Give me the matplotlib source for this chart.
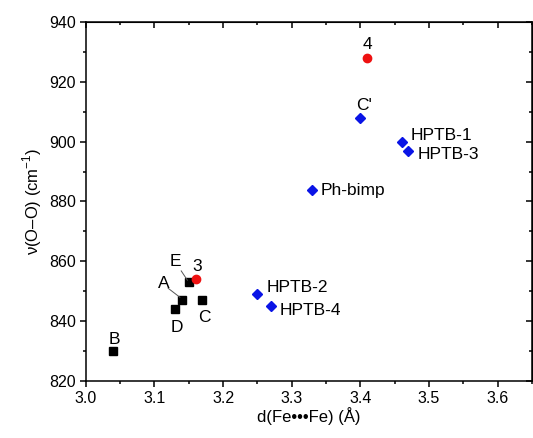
import matplotlib
matplotlib.use("Agg")
import matplotlib.pyplot as plt
from matplotlib.ticker import MultipleLocator

plt.rcParams['font.family'] = ['Liberation Sans', 'DejaVu Sans']
plt.rcParams['mathtext.fontset'] = 'custom'
plt.rcParams['mathtext.rm'] = 'Liberation Sans'
plt.rcParams['font.size'] = 11

# black squares
sq_names = ['B', 'D', 'A', 'E', 'C']
sq_x = [3.04, 3.13, 3.14, 3.15, 3.17]
sq_y = [830, 844, 847, 853, 847]

# red circles
rc_names = ['3', '4']
rc_x = [3.16, 3.41]
rc_y = [854, 928]

# blue diamonds
bd_names = ["C'", 'HPTB-1', 'HPTB-3', 'Ph-bimp', 'HPTB-2', 'HPTB-4']
bd_x = [3.40, 3.46, 3.47, 3.33, 3.25, 3.27]
bd_y = [908, 900, 897, 884, 849, 845]

# label positions (text centre or left edge)
lab_pos = {
    'B': (3.042, 834, 'center'),
    'D': (3.133, 838, 'center'),
    'A': (3.113, 852.6, 'center'),
    'E': (3.131, 860, 'center'),
    'C': (3.173, 841.4, 'center'),
    '3': (3.162, 858.2, 'center'),
    '4': (3.41, 932.3, 'center'),
    "C'": (3.406, 912.1, 'center'),
    'HPTB-1': (3.473, 902.2, 'left'),
    'HPTB-3': (3.483, 895.6, 'left'),
    'Ph-bimp': (3.342, 883.6, 'left'),
    'HPTB-2': (3.264, 851.2, 'left'),
    'HPTB-4': (3.283, 843.6, 'left'),
}

fig = plt.figure(figsize=(5.33, 4.38), dpi=100)
ax = fig.add_axes([0.161, 0.130, 0.837, 0.820])

ax.plot(sq_x, sq_y, 's', color='black', markersize=5.2, linestyle='none')
ax.plot(rc_x, rc_y, 'o', color='#ee1111', markersize=6, linestyle='none')
ax.plot(bd_x, bd_y, 'D', color='#0a14e6', markersize=5, linestyle='none')

for name in sq_names + rc_names + bd_names:
    x, y, ha = lab_pos[name]
    ax.text(x, y, name, ha=ha, va='center', fontsize=12.5)

# leader lines for A and E
ax.plot([3.120, 3.137], [851, 848], color='#555555', linewidth=0.7)
ax.plot([3.139, 3.148], [856.8, 853.7], color='#555555', linewidth=0.7)

ax.set_xlim(3.0, 3.65)
ax.set_ylim(820, 940)
ax.xaxis.set_major_locator(MultipleLocator(0.1))
ax.xaxis.set_minor_locator(MultipleLocator(0.05))
ax.yaxis.set_major_locator(MultipleLocator(20))
ax.yaxis.set_minor_locator(MultipleLocator(10))
ax.xaxis.set_major_formatter(plt.FormatStrFormatter('%.1f'))

for s in ax.spines.values():
    s.set_linewidth(1.1)
ax.tick_params(which='major', direction='out', length=4, width=1.1, labelsize=11.5, pad=3)
ax.tick_params(which='minor', direction='out', length=2.5, width=1.1)

sx = ax.secondary_xaxis('top')
sx.xaxis.set_major_locator(MultipleLocator(0.1))
sx.xaxis.set_minor_locator(MultipleLocator(0.05))
sx.tick_params(which='both', direction='in', labeltop=False, width=1.1)
sx.tick_params(which='major', length=4)
sx.tick_params(which='minor', length=2.5)
sy = ax.secondary_yaxis('right')
sy.yaxis.set_major_locator(MultipleLocator(20))
sy.yaxis.set_minor_locator(MultipleLocator(10))
sy.tick_params(which='both', direction='in', labelright=False, width=1.1)
sy.tick_params(which='major', length=4)
sy.tick_params(which='minor', length=2.5)

ax.set_xlabel('d(Fe\u2022\u2022\u2022Fe) (\u00c5)', fontsize=12, labelpad=1)
ax.set_ylabel('\u03bd(O\u2013O) (cm$^{-1}$)', fontsize=12, labelpad=4)

fig.savefig('out.png', dpi=100)
